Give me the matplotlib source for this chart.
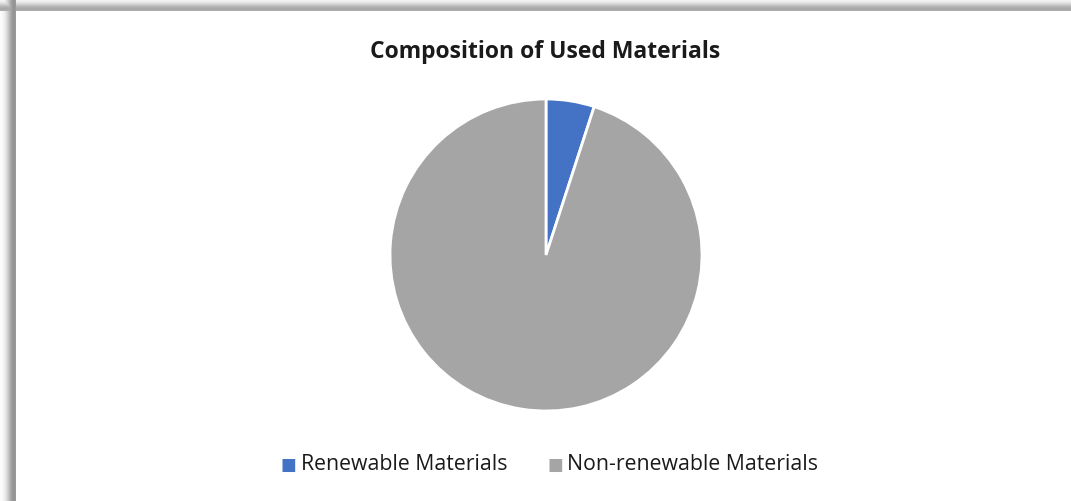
import numpy as np
import matplotlib.pyplot as plt

# данные
labels = ['Renewable Materials', 'Non-renewable Materials']
values = [5, 95]
colors = ['#4472C4', '#A5A5A5']

W, H = 1071, 502
fig = plt.figure(figsize=(W / 100, H / 100), dpi=100)

# фон с тенью рамки
bg = fig.add_axes([0, 0, 1, 1])
xx, yy = np.meshgrid(np.arange(W) + 0.5, np.arange(H) + 0.5)
dl = np.clip(16 - xx, 0, None)
dt = np.clip(12 - yy, 0, None)
sh_l = np.where(xx < 16, 0.42 * np.exp(-((dl - 2) / 7.0) ** 2), 0)
sh_t = np.where(yy < 12, 0.34 * np.exp(-((dt - 2) / 6.0) ** 2), 0)
shade = np.maximum(sh_l, sh_t)
shade[(xx >= 16) & (yy >= 12)] = 0
img = 1 - shade
bg.imshow(img, cmap='gray', vmin=0, vmax=1, extent=[0, W, H, 0], interpolation='nearest')
bg.set_xlim(0, W)
bg.set_ylim(H, 0)
bg.axis('off')

# пирог
cx, cy, r = 546, 256, 156
ax = fig.add_axes([(cx - r) / W, (H - cy - r) / H, 2 * r / W, 2 * r / H])
ax.pie(values, colors=colors, startangle=90, counterclock=False,
       wedgeprops=dict(edgecolor='white', linewidth=2))
ax.set_xlim(-1, 1)
ax.set_ylim(-1, 1)
ax.set_aspect('equal')

fig.text(545 / W, 1 - 52 / H, 'Composition of Used Materials', ha='center', va='center',
         fontsize=16.5, fontweight='bold', family='Open Sans', color='#1a1a1a')

# легенда
leg_y = 1 - 465 / H
fig.text(288 / W, leg_y, '■', ha='center', va='center', fontsize=12, color=colors[0])
fig.text(301 / W, leg_y, labels[0], ha='left', va='center', fontsize=15.3, family='Open Sans', color='#1a1a1a')
fig.text(555 / W, leg_y, '■', ha='center', va='center', fontsize=12, color=colors[1])
fig.text(567 / W, leg_y, labels[1], ha='left', va='center', fontsize=15.3, family='Open Sans', color='#1a1a1a')

fig.savefig('out.png', dpi=100)
